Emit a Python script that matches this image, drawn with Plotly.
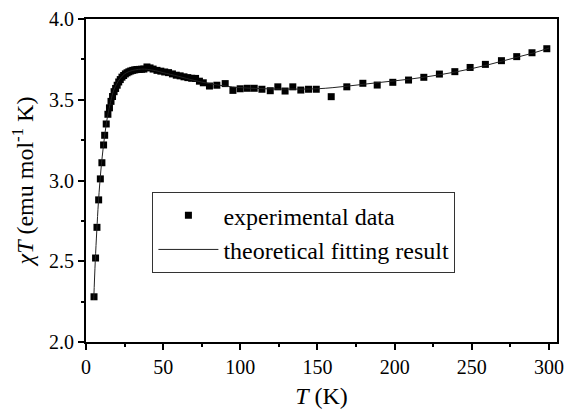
import plotly.graph_objects as go

# experimental chi*T data
exp_T = [5.2, 6.2, 7.1, 8.2, 9.3, 10.3, 11.4, 12.1, 13.1, 14.2, 15.2, 16.2, 17.2,
         18.2, 19.2, 20.2, 21.2, 22.2, 23.3, 24.4, 25.5, 26.6, 27.8, 29.0, 30.3,
         31.6, 33.0, 34.5, 36.0, 37.5, 39.5, 41.5, 43.5, 46.0, 48.5, 51.0, 53.5,
         56.0, 58.5, 61.0, 63.5, 66.0, 68.5, 71.0, 73.5, 76.0, 80.0, 84.8, 90.2,
         95.2, 99.9, 104.5, 109.0, 114.0, 119.4, 124.3, 129.0, 134.0, 139.2,
         144.2, 149.2, 158.9, 169.0, 179.4, 188.7, 198.8, 209.0, 218.9, 229.0,
         239.0, 248.9, 258.8, 269.2, 279.1, 289.0, 298.6]
exp_chiT = [2.28, 2.52, 2.71, 2.88, 3.01, 3.11, 3.22, 3.28, 3.35, 3.41, 3.45, 3.49,
            3.52, 3.55, 3.57, 3.59, 3.61, 3.625, 3.64, 3.65, 3.66, 3.667, 3.673,
            3.678, 3.682, 3.685, 3.687, 3.688, 3.689, 3.69, 3.703, 3.697, 3.69,
            3.682, 3.677, 3.672, 3.668, 3.66, 3.652, 3.648, 3.642, 3.637, 3.633,
            3.632, 3.615, 3.605, 3.585, 3.59, 3.6, 3.558, 3.568, 3.571, 3.571,
            3.565, 3.556, 3.58, 3.554, 3.58, 3.56, 3.565, 3.565, 3.519, 3.58,
            3.602, 3.591, 3.608, 3.622, 3.639, 3.659, 3.674, 3.7, 3.719, 3.742,
            3.767, 3.791, 3.816]

# theoretical fit curve
fit_T = [5, 6, 7, 8, 9, 10, 11, 12, 13, 14, 16, 18, 20, 22, 25, 28, 32, 36, 40,
         45, 50, 60, 70, 80, 90, 100, 110, 120, 130, 140, 150, 160, 170, 180,
         190, 200, 210, 220, 230, 240, 250, 260, 270, 280, 290, 300]
fit_chiT = [2.26, 2.50, 2.69, 2.86, 2.99, 3.10, 3.19, 3.27, 3.34, 3.40, 3.49, 3.56,
            3.60, 3.63, 3.66, 3.675, 3.685, 3.69, 3.688, 3.68, 3.668, 3.645, 3.62,
            3.60, 3.585, 3.575, 3.57, 3.567, 3.566, 3.566, 3.568, 3.575, 3.585,
            3.596, 3.607, 3.617, 3.628, 3.641, 3.656, 3.673, 3.693, 3.715, 3.74,
            3.765, 3.79, 3.82]

FONT = "Liberation Serif"

fig = go.Figure()
fig.add_trace(go.Scatter(
    x=exp_T, y=exp_chiT, mode="markers", name="experimental data",
    marker=dict(symbol="square", size=7, color="black"),
    legendgroup="a",
))
fig.add_trace(go.Scatter(
    x=fit_T, y=fit_chiT, mode="lines", name="theoretical fitting result",
    line=dict(color="#222222", width=1, shape="spline"),
    legendgroup="b",
))

axis_common = dict(
    showline=True, linecolor="black", linewidth=2, mirror=True,
    ticks="outside", ticklen=6, tickwidth=2, tickcolor="black",
    showgrid=False, zeroline=False, automargin=False,
    tickfont=dict(family=FONT, size=20, color="black"),
)
fig.update_xaxes(
    range=[0, 305.2], tick0=0, dtick=50,
    minor=dict(dtick=25, ticks="outside", ticklen=3, tickwidth=2, tickcolor="black"),
    title=dict(text="<i>T</i> (K)", font=dict(family=FONT, size=24, color="black"),
               standoff=10),
    **axis_common,
)
fig.update_yaxes(
    range=[2, 4], tick0=2, dtick=0.5, tickformat=".1f",
    minor=dict(dtick=0.25, ticks="outside", ticklen=3, tickwidth=2, tickcolor="black"),
    title=dict(text="<i>χT</i> (emu mol<sup>-1</sup> K)",
               font=dict(family=FONT, size=24, color="black"), standoff=9),
    **axis_common,
)
fig.update_layout(
    width=565, height=414,
    margin=dict(l=86, r=8, t=19, b=72),
    paper_bgcolor="white", plot_bgcolor="white",
    showlegend=True,
    legend=dict(
        x=0.141, y=0.464, xanchor="left", yanchor="top",
        bgcolor="white", bordercolor="#333333", borderwidth=1,
        font=dict(family=FONT, size=24, color="black"),
        itemwidth=60, traceorder="grouped", tracegroupgap=0,
    ),
)

# page body has a default 8px margin; drop it so the figure sits at the corner
fig.write_html(
    "out.html",
    config={"displayModeBar": False},
    post_script="document.body.style.margin = '0';",
)
